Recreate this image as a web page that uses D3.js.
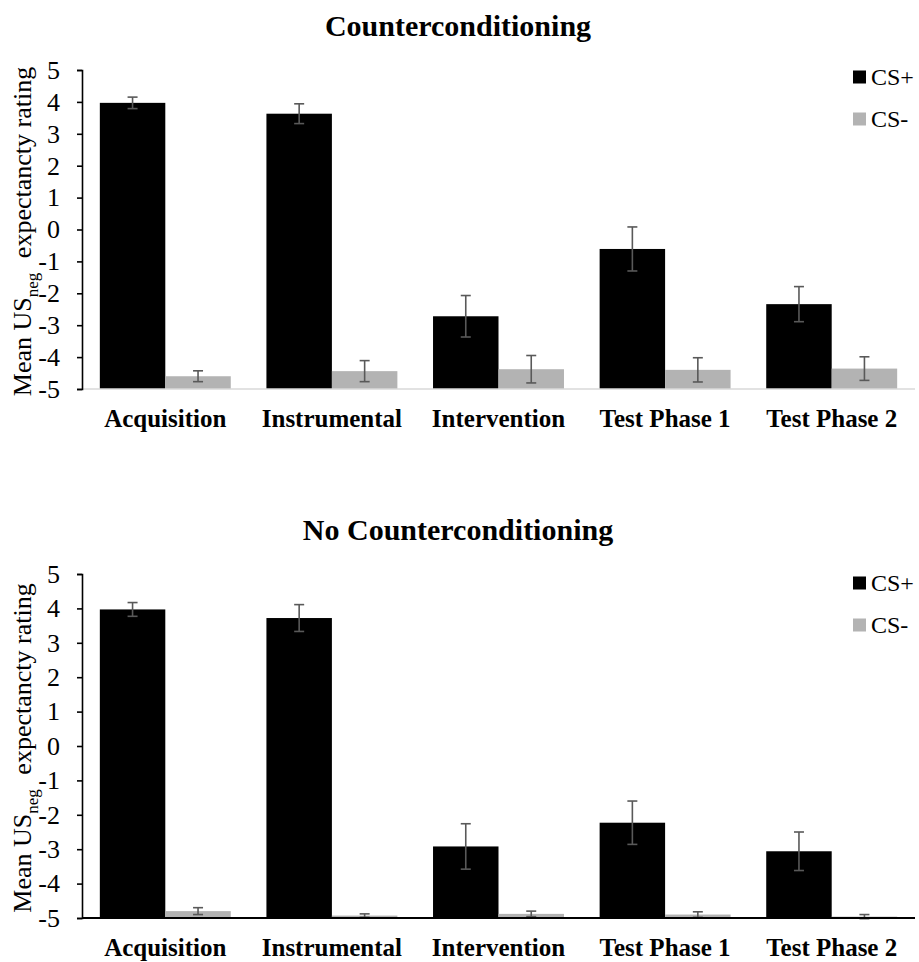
<!DOCTYPE html>
<html>
<head>
<meta charset="utf-8">
<script src="https://cdn.jsdelivr.net/npm/d3@7"></script>
<style>
  body { margin: 0; background: #fff; }
  text { font-family: "Liberation Serif", "Times New Roman", serif; }
</style>
</head>
<body>
<div id="myChart"></div>
<script>

// Phases on the x axis
var phases = ["Acquisition", "Instrumental", "Intervention", "Test Phase 1", "Test Phase 2"];
var series = ["CS+", "CS-"];
var yTicks = [5, 4, 3, 2, 1, 0, -1, -2, -3, -4, -5];

// Counterconditioning group
var ccPlus = [3.97, 3.63, -2.72, -0.61, -2.34];
var ccPlusErr = [0.18, 0.31, 0.65, 0.69, 0.55];
var ccMinus = [-4.60, -4.44, -4.38, -4.40, -4.36];
var ccMinusErr = [0.17, 0.33, 0.43, 0.38, 0.37];

// No counterconditioning group
var nccPlus = [3.97, 3.72, -2.92, -2.23, -3.06];
var nccPlusErr = [0.20, 0.39, 0.66, 0.63, 0.56];
var nccMinus = [-4.80, -4.93, -4.88, -4.90, -4.96];
var nccMinusErr = [0.10, 0.05, 0.08, 0.08, 0.06];

var width = 919;
var height = 962;

var colors = {"CS+": "#000000", "CS-": "#b3b3b3"};

var svg = d3.select("#myChart")
	.append("svg")
	.attr("width", width)
	.attr("height", height);

function drawPanel(opts) {

	var left = 82, right = 915;

	// Scales
	var yScale = d3.scaleLinear()
		.domain([-5, 5])
		.range([opts.bottom, opts.top]);

	var x0 = d3.scaleBand()
		.domain(phases)
		.range([left, right])
		.paddingInner(0.214)
		.paddingOuter(0.107);

	var x1 = d3.scaleBand()
		.domain(series)
		.range([0, x0.bandwidth()]);

	var g = svg.append("g");

	// Title
	g.append("text")
		.attr("x", 458)
		.attr("y", opts.titleY)
		.attr("text-anchor", "middle")
		.style("font-size", "30px")
		.style("font-weight", "bold")
		.text(opts.title);

	// Rows of bar data
	var rows = [];
	phases.forEach(function(p, i) {
		rows.push({phase: p, key: "CS+", value: opts.plus[i], err: opts.plusErr[i]});
		rows.push({phase: p, key: "CS-", value: opts.minus[i], err: opts.minusErr[i]});
	});

	// Bars start from the -5 baseline
	g.selectAll("rect.bar")
		.data(rows)
		.enter()
		.append("rect")
		.attr("class", "bar")
		.attr("x", function(d) { return x0(d.phase) + x1(d.key); })
		.attr("y", function(d) { return yScale(d.value); })
		.attr("width", x1.bandwidth())
		.attr("height", function(d) { return yScale(-5) - yScale(d.value); })
		.attr("fill", function(d) { return colors[d.key]; });

	// Error bars
	var eb = g.selectAll("g.err")
		.data(rows)
		.enter()
		.append("g")
		.attr("class", "err")
		.attr("stroke", "#595959")
		.attr("stroke-width", 1.6);

	function cx(d) { return x0(d.phase) + x1(d.key) + x1.bandwidth() / 2; }

	eb.append("line")
		.attr("x1", cx).attr("x2", cx)
		.attr("y1", function(d) { return yScale(d.value + d.err); })
		.attr("y2", function(d) { return yScale(d.value - d.err); });
	eb.append("line")
		.attr("x1", function(d) { return cx(d) - 5; })
		.attr("x2", function(d) { return cx(d) + 5; })
		.attr("y1", function(d) { return yScale(d.value + d.err); })
		.attr("y2", function(d) { return yScale(d.value + d.err); });
	eb.append("line")
		.attr("x1", function(d) { return cx(d) - 5; })
		.attr("x2", function(d) { return cx(d) + 5; })
		.attr("y1", function(d) { return yScale(d.value - d.err); })
		.attr("y2", function(d) { return yScale(d.value - d.err); });

	// x axis line
	g.append("line")
		.attr("x1", left).attr("x2", right)
		.attr("y1", yScale(-5)).attr("y2", yScale(-5))
		.attr("stroke", opts.xAxisColor)
		.attr("stroke-width", opts.xAxisWidth);

	// x axis labels
	g.selectAll("text.xlab")
		.data(phases)
		.enter()
		.append("text")
		.attr("class", "xlab")
		.attr("x", function(d) { return x0(d) + x0.bandwidth() / 2; })
		.attr("y", yScale(-5) + 38)
		.attr("text-anchor", "middle")
		.style("font-size", "25px")
		.style("font-weight", "bold")
		.text(function(d) { return d; });

	// y axis
	var yAxis = g.append("g")
		.attr("transform", "translate(" + left + ",0)")
		.call(d3.axisLeft(yScale).tickValues(yTicks).tickSize(5).tickPadding(17).tickFormat(d3.format("d")));
	yAxis.select(".domain").attr("stroke", "#000").attr("stroke-width", 1.6);
	yAxis.selectAll(".tick line").attr("stroke", "#000").attr("stroke-width", 1.6);
	yAxis.selectAll(".tick text")
		.style("font-family", "'Liberation Serif', 'Times New Roman', serif")
		.style("font-size", "26px")
		.attr("fill", "#000")
		.text(function(d) { return d < 0 ? "-" + Math.abs(d) : d; });

	// y axis label
	var mid = (opts.top + opts.bottom) / 2;
	var ylab = g.append("text")
		.attr("transform", "translate(31," + (mid + 2) + ") rotate(-90)")
		.attr("text-anchor", "middle")
		.style("font-size", "26px");
	ylab.append("tspan").text("Mean US");
	ylab.append("tspan").attr("dy", 7).style("font-size", "17px").text("neg");
	ylab.append("tspan").attr("dy", -7).attr("dx", 8).text(" expectancty rating");

	// Legend
	var leg = g.selectAll("g.leg")
		.data(series)
		.enter()
		.append("g")
		.attr("class", "leg")
		.attr("transform", function(d, i) { return "translate(853," + (opts.legendY + i * 42) + ")"; });
	leg.append("rect")
		.attr("width", 13).attr("height", 13)
		.attr("y", -6.5)
		.attr("fill", function(d) { return colors[d]; });
	leg.append("text")
		.attr("x", 18)
		.attr("y", 8)
		.style("font-size", "24px")
		.text(function(d) { return d; });
}

drawPanel({
	title: "Counterconditioning", titleY: 36,
	top: 70, bottom: 389,
	plus: ccPlus, plusErr: ccPlusErr, minus: ccMinus, minusErr: ccMinusErr,
	xAxisColor: "#d9d9d9", xAxisWidth: 1.6,
	legendY: 77
});

drawPanel({
	title: "No Counterconditioning", titleY: 540,
	top: 574, bottom: 918,
	plus: nccPlus, plusErr: nccPlusErr, minus: nccMinus, minusErr: nccMinusErr,
	xAxisColor: "#000000", xAxisWidth: 2.2,
	legendY: 583
});

</script>
</body>
</html>
